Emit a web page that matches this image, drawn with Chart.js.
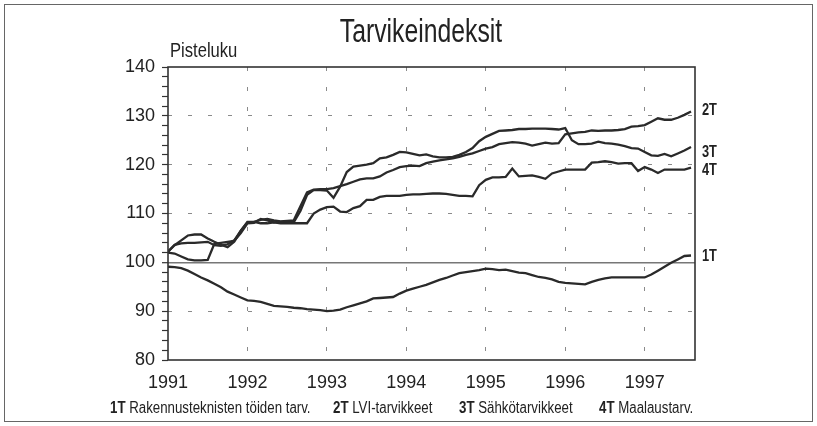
<!DOCTYPE html>
<html><head><meta charset="utf-8">
<script src="https://cdn.jsdelivr.net/npm/chart.js@4/dist/chart.umd.min.js"></script>
<style>
html,body{margin:0;padding:0;background:#fff;}
#wrap{position:relative;width:817px;height:426px;overflow:hidden;font-family:"Liberation Sans",Arial,sans-serif;color:#222;}
#c{position:absolute;left:0;top:0;}
#frame{position:absolute;left:4px;top:4px;width:807px;height:416px;border:1.5px solid #666;}
.t{position:absolute;white-space:nowrap;line-height:1;}
.lg{font-size:16px;transform-origin:left top;transform:scaleX(0.83);}
</style></head><body>
<div id="wrap">
<canvas id="c" width="817" height="426"></canvas>
<div id="frame"></div>
<div class="t" style="left:421px;top:14px;font-size:33px;transform:translateX(-50%) scaleX(0.75);">Tarvikeindeksit</div>
<div class="t" style="left:170px;top:40px;font-size:20px;transform-origin:left top;transform:scaleX(0.83);">Pisteluku</div>
<div class="t lg" style="left:110px;top:400px;"><b>1T</b> Rakennusteknisten töiden tarv.</div>
<div class="t lg" style="left:333px;top:400px;"><b>2T</b> LVI-tarvikkeet</div>
<div class="t lg" style="left:459px;top:400px;"><b>3T</b> Sähkötarvikkeet</div>
<div class="t lg" style="left:599px;top:400px;"><b>4T</b> Maalaustarv.</div>
</div>
<script>
const years = ['1991','1992','1993','1994','1995','1996','1997'];
const seriesNames = ['1T','2T','3T','4T'];

const t1 = [
 99.1, 99.0, 98.8, 98.3, 97.6, 96.9, 96.3, 95.6, 94.9, 94.0,
 93.4, 92.8, 92.2, 92.1, 91.9, 91.5, 91.1, 91.0, 90.9, 90.7,
 90.6, 90.4, 90.3, 90.2, 90.0, 90.1, 90.3, 90.8, 91.2, 91.6,
 92.0, 92.6, 92.7, 92.8, 92.9, 93.6, 94.2, 94.6, 95.0, 95.4,
 95.9, 96.4, 96.8, 97.3, 97.8, 98.0, 98.2, 98.4, 98.7, 98.6,
 98.4, 98.5, 98.2, 97.9, 97.8, 97.4, 97.0, 96.8, 96.5, 96.0,
 95.8, 95.7, 95.6, 95.5, 96.0, 96.4, 96.7, 96.9, 96.9, 96.9,
 96.9, 96.9, 96.9, 97.5, 98.3, 99.1, 99.9, 100.6, 101.3, 101.4
];
const t2 = [
 102.2, 103.5, 104.5, 105.5, 105.7, 105.7, 104.9, 104.2, 103.6, 103.1,
 104.2, 106.5, 108.2, 108.3, 108.7, 108.9, 108.6, 108.4, 108.5, 108.6,
 111.5, 114.3, 114.9, 115.0, 115.0, 115.2, 115.6, 116.0, 116.5, 117.0,
 117.2, 117.2, 117.6, 118.4, 118.9, 119.5, 119.7, 119.8, 119.7, 120.3,
 120.6, 120.9, 121.1, 121.3, 121.6, 122.0, 122.3, 122.8, 123.3, 123.6,
 124.2, 124.4, 124.6, 124.5, 124.3, 123.9, 124.2, 124.5, 124.3, 124.4,
 126.2, 126.4, 126.6, 126.7, 127.0, 126.9, 127.0, 127.0, 127.1, 127.3,
 127.8, 127.9, 128.1, 128.8, 129.5, 129.2, 129.2, 129.6, 130.2, 130.9
];
const t3 = [
 102.0, 101.8, 101.2, 100.6, 100.4, 100.4, 100.5, 103.8, 104.0, 104.2,
 104.4, 106.0, 108.0, 108.1, 108.9, 108.6, 108.2, 108.3, 108.4, 108.2,
 110.5, 113.8, 114.8, 114.8, 114.7, 113.2, 115.5, 118.5, 119.6, 119.8,
 120.0, 120.3, 121.3, 121.5, 122.0, 122.6, 122.5, 122.2, 121.9, 122.1,
 121.7, 121.5, 121.5, 121.6, 122.0, 122.6, 123.4, 124.8, 125.7, 126.3,
 126.9, 127.0, 127.1, 127.3, 127.3, 127.4, 127.4, 127.4, 127.3, 127.2,
 127.5, 125.0, 124.2, 124.2, 124.3, 124.7, 124.4, 124.3, 124.1, 123.8,
 123.4, 123.3, 122.6, 121.9, 121.8, 122.2, 121.7, 122.3, 122.9, 123.6
];
const t4 = [
 102.2, 103.6, 103.9, 104.0, 104.0, 104.1, 104.2, 103.5, 103.4, 103.7,
 104.5, 106.5, 108.3, 108.3, 108.0, 108.0, 108.2, 108.0, 108.0, 108.0,
 108.0, 108.0, 110.0, 110.8, 111.3, 111.4, 110.4, 110.3, 111.1, 111.5,
 112.8, 112.8, 113.4, 113.6, 113.6, 113.6, 113.8, 113.9, 113.9, 114.0,
 114.1, 114.1, 114.0, 113.8, 113.6, 113.6, 113.5, 115.8, 116.9, 117.4,
 117.4, 117.5, 119.2, 117.6, 117.7, 117.8, 117.5, 117.1, 118.2, 118.6,
 119.0, 119.0, 119.0, 119.0, 120.4, 120.5, 120.7, 120.5, 120.2, 120.3,
 120.3, 118.7, 119.5, 119.0, 118.3, 119.0, 119.0, 119.0, 119.0, 119.4
];
const allSeries = [t1, t2, t3, t4];

const FONT = '"Liberation Sans", Arial, sans-serif';

const framePlugin = {
  id: 'frameBox',
  afterDraw(chart) {
    const {ctx, chartArea: a} = chart;
    ctx.save();
    ctx.strokeStyle = '#333';
    ctx.lineWidth = 1.6;
    ctx.strokeRect(a.left, a.top, a.right - a.left, a.bottom - a.top);
    ctx.restore();
  }
};

const endLabels = {
  id: 'endLabels',
  afterDraw(chart) {
    const {ctx, chartArea: a} = chart;
    const ys = chart.scales.y;
    const nudge = [1, -1, 6, 3];
    ctx.save();
    ctx.fillStyle = '#222';
    ctx.font = 'bold 16px ' + FONT;
    ctx.textBaseline = 'middle';
    ctx.textAlign = 'left';
    chart.data.datasets.forEach((ds, i) => {
      const last = ds.data[ds.data.length - 1].y;
      const y = ys.getPixelForValue(last) + nudge[i];
      ctx.save();
      ctx.translate(a.right + 7, y);
      ctx.scale(0.8, 1);
      ctx.fillText(seriesNames[i], 0, 0);
      ctx.restore();
    });
    ctx.restore();
  }
};

const isMul = (v, m) => Math.abs(v / m - Math.round(v / m)) < 1e-6;

new Chart(document.getElementById('c'), {
  type: 'line',
  data: {
    datasets: allSeries.map((s, i) => ({
      label: seriesNames[i],
      data: s.map((v, k) => ({x: k, y: v})),
      borderColor: '#2a2a2a',
      borderWidth: 2.3,
      pointRadius: 0,
      tension: 0,
      fill: false
    }))
  },
  options: {
    responsive: false,
    animation: false,
    devicePixelRatio: 1,
    layout: {padding: {left: 5, right: 122, top: 67, bottom: 26}},
    plugins: {legend: {display: false}, tooltip: {enabled: false}, title: {display: false}},
    scales: {
      x: {
        type: 'linear', min: 0, max: 79.6,
        afterFit(s) { s.height = 40; },
        ticks: {
          stepSize: 12, includeBounds: false, autoSkip: false, maxRotation: 0, padding: 12,
          color: '#222', font: {family: FONT, size: 18},
          callback: v => isMul(v, 12) ? years[Math.round(v / 12)] : ''
        },
        grid: {
          drawTicks: false,
          color: c => (c.tick && c.tick.value === 0) ? 'rgba(0,0,0,0)' : '#8a8a8a',
          lineWidth: 1
        },
        border: {display: false, dash: [4, 16]}
      },
      y: {
        min: 80, max: 140,
        afterFit(s) { s.width = 163; },
        ticks: {
          stepSize: 2, autoSkip: false, padding: 7,
          color: '#222', font: {family: FONT, size: 18},
          callback: v => isMul(v, 10) ? String(Math.round(v)) : ''
        },
        grid: {
          color: c => {
            const v = c.tick ? c.tick.value : 0;
            if (Math.abs(v - 100) < 1e-6) return '#777';
            if (isMul(v, 10) && v > 80.5 && v < 139.5) return '#8a8a8a';
            return 'rgba(0,0,0,0)';
          },
          lineWidth: c => (c.tick && Math.abs(c.tick.value - 100) < 1e-6) ? 1.4 : 1,
          tickLength: 6, tickColor: '#333', tickWidth: 1.2, tickBorderDash: []
        },
        border: {display: false, dash: c => (c.tick && Math.abs(c.tick.value - 100) < 1e-6) ? [] : [4, 16]}
      }
    }
  },
  plugins: [framePlugin, endLabels]
});
</script>
</body></html>
